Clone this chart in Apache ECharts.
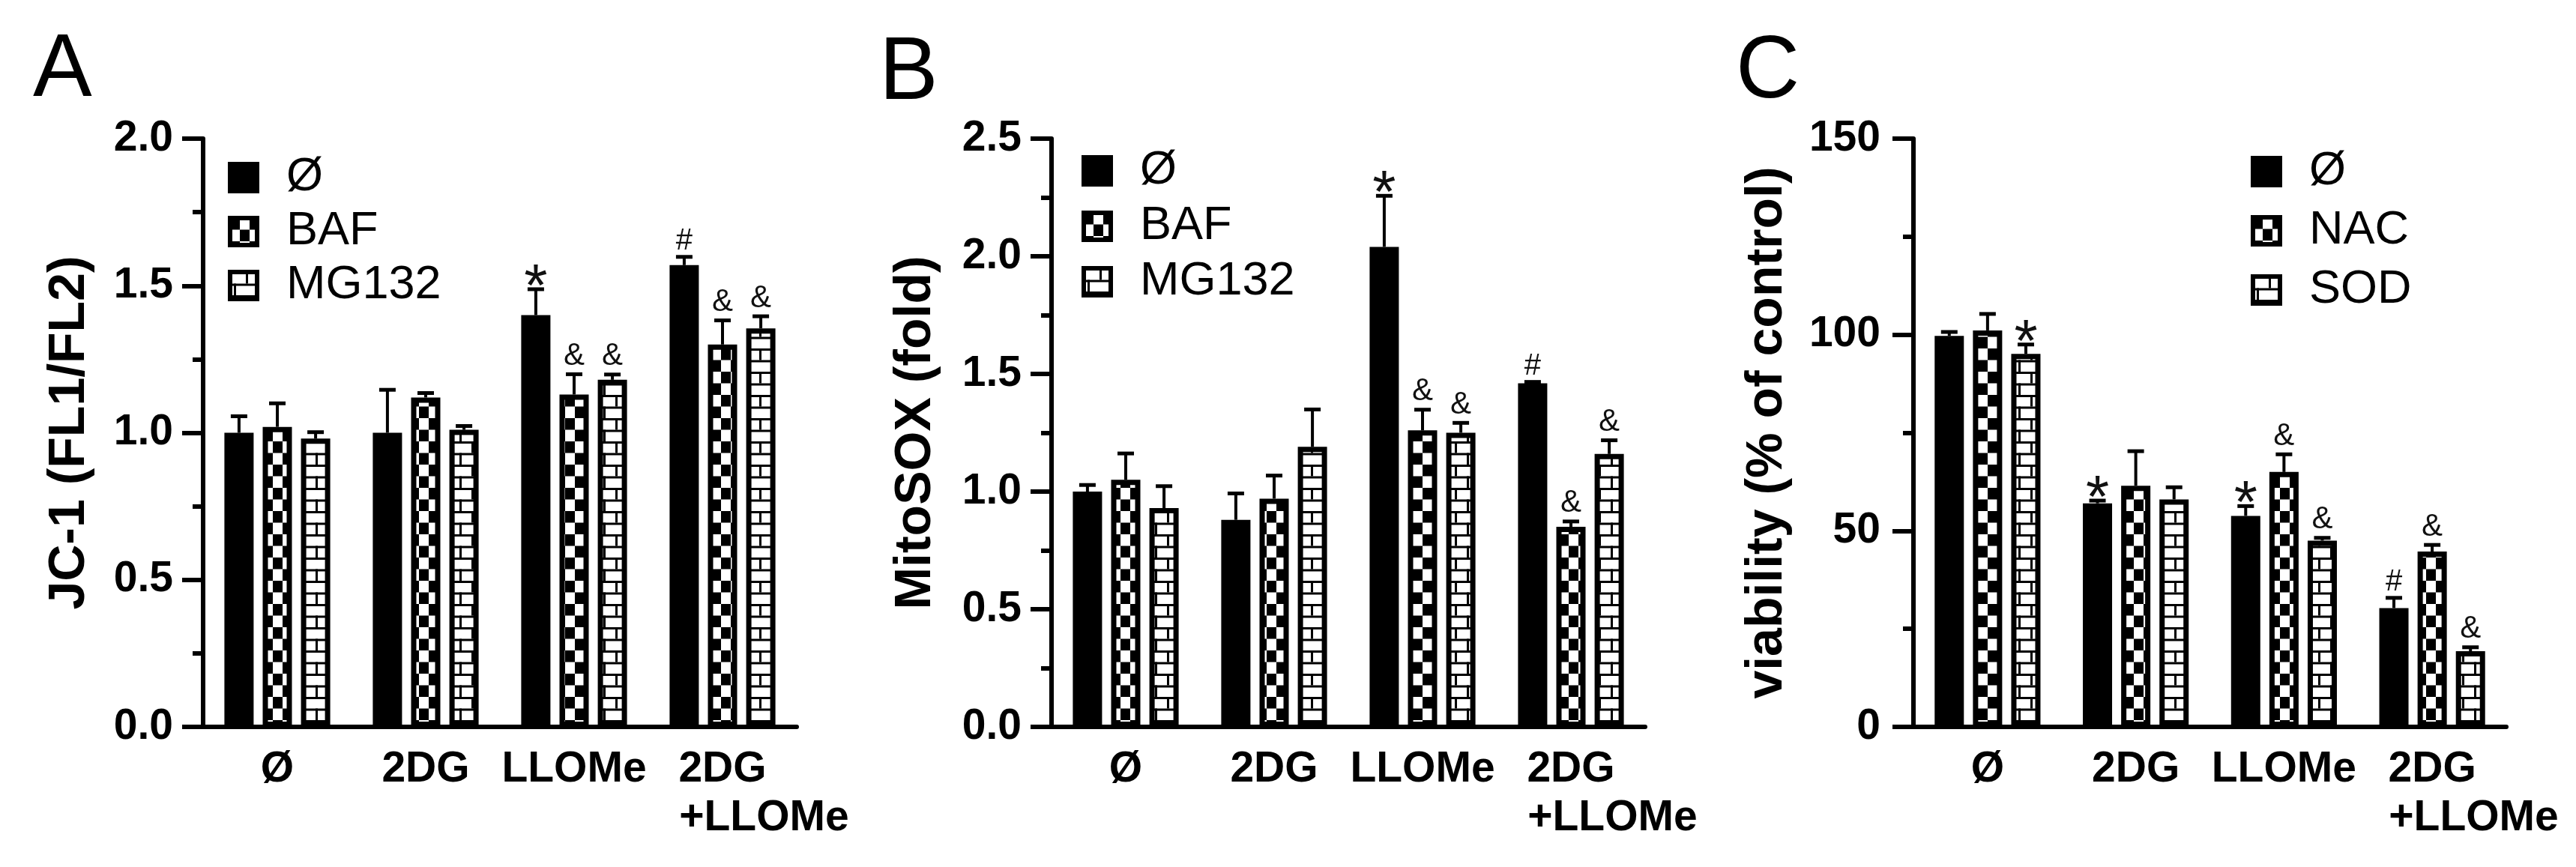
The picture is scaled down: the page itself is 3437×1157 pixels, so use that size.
<!DOCTYPE html>
<html><head><meta charset="utf-8">
<script src="https://cdn.jsdelivr.net/npm/echarts@6/dist/echarts.min.js"></script>
<style>html,body{margin:0;padding:0;background:#fff}#c{width:3437px;height:1157px}</style>
</head><body><div id="c"></div>
<script>
// ---------- data ----------
const categories = ['Ø', '2DG', 'LLOMe', '2DG\n+LLOMe'];

// Panel A: JC-1 (FL1/FL2)
const jc1None = [1.00, 1.00, 1.40, 1.57];
const jc1NoneErr = [0.056, 0.146, 0.088, 0.028];
const jc1Baf = [1.02, 1.12, 1.13, 1.30];
const jc1BafErr = [0.080, 0.015, 0.069, 0.082];
const jc1Mg = [0.98, 1.01, 1.18, 1.355];
const jc1MgErr = [0.022, 0.013, 0.018, 0.041];
const jc1NoneSig = ['', '', '*', '#'];
const jc1BafSig = ['', '', '&', '&'];
const jc1MgSig = ['', '', '&', '&'];

// Panel B: MitoSOX (fold)
const mitoNone = [1.00, 0.88, 2.04, 1.46];
const mitoNoneErr = [0.028, 0.112, 0.217, 0.006];
const mitoBaf = [1.05, 0.97, 1.26, 0.85];
const mitoBafErr = [0.112, 0.098, 0.088, 0.023];
const mitoMg = [0.93, 1.19, 1.25, 1.16];
const mitoMgErr = [0.093, 0.159, 0.042, 0.058];
const mitoNoneSig = ['', '', '*', '#'];
const mitoBafSig = ['', '', '&', '&'];
const mitoMgSig = ['', '', '&', '&'];

// Panel C: viability (% of control)
const viaNone = [99.7, 57.0, 53.8, 30.3];
const viaNoneErr = [1.0, 0.7, 2.5, 2.6];
const viaNac = [101.1, 61.5, 65.0, 44.7];
const viaNacErr = [4.2, 8.8, 4.5, 1.7];
const viaSod = [95.1, 58.0, 47.5, 19.3];
const viaSodErr = [2.4, 3.1, 0.7, 1.0];
const viaNoneSig = ['', '*', '*', '#'];
const viaNacSig = ['', '', '&', '&'];
const viaSodSig = ['*', '', '&', '&'];

const legendAB = ['Ø', 'BAF', 'MG132'];
const legendC = ['Ø', 'NAC', 'SOD'];
const panelLetters = ['A', 'B', 'C'];
const yNames = ['JC-1 (FL1/FL2)', 'MitoSOX (fold)', 'viability (% of control)'];
const yMax = [2.0, 2.5, 150];
const yInterval = [0.5, 0.5, 50];

// ---------- styling ----------
const FONT = '"Liberation Sans", Arial, Helvetica, sans-serif';
const BAR_W = 39, BAR_GAP = 0.31;

function checkerTile() {
  const c = document.createElement('canvas'); c.width = 26; c.height = 31;
  const g = c.getContext('2d');
  g.fillStyle = '#fff'; g.fillRect(0, 0, 26, 31);
  g.fillStyle = '#000'; g.fillRect(0, 0, 13, 15.5); g.fillRect(13, 15.5, 13, 15.5);
  return c;
}
function brickTile() {
  const c = document.createElement('canvas'); c.width = 32; c.height = 31;
  const g = c.getContext('2d');
  g.fillStyle = '#fff'; g.fillRect(0, 0, 32, 31);
  g.fillStyle = '#000';
  g.fillRect(0, 0, 32, 3); g.fillRect(0, 15.5, 32, 3);
  g.fillRect(21, 0, 3, 15.5); g.fillRect(5, 15.5, 3, 15.5);
  return c;
}
const fills = ['#000', { image: checkerTile(), repeat: 'repeat' }, { image: brickTile(), repeat: 'repeat' }];

const SYM_FONT = { '*': 'normal 80px ' + FONT, '&': 'normal 42px ' + FONT, '#': 'normal 40px ' + FONT };
const SYM_OFF = { '*': 40, '&': -3, '#': -1 };

const LABEL_STYLE = { color: '#000', fontFamily: FONT, fontWeight: 'bold', fontSize: 57, lineHeight: 65 };

const panels = [
  { vals: [jc1None, jc1Baf, jc1Mg], errs: [jc1NoneErr, jc1BafErr, jc1MgErr], sigs: [jc1NoneSig, jc1BafSig, jc1MgSig], names: legendAB,
    grid: { left: 271, width: 792 }, nameGap: 144, labelMargin: 40, legend: { left: 304, top: 205, gap: 8 }, letter: { left: 44, top: 36 } },
  { vals: [mitoNone, mitoBaf, mitoMg], errs: [mitoNoneErr, mitoBafErr, mitoMgErr], sigs: [mitoNoneSig, mitoBafSig, mitoMgSig], names: legendAB,
    grid: { left: 1403, width: 792 }, nameGap: 147, labelMargin: 40, legend: { left: 1443, top: 196, gap: 10 }, letter: { left: 1173, top: 40 } },
  { vals: [viaNone, viaNac, viaSod], errs: [viaNoneErr, viaNacErr, viaSodErr], sigs: [viaNoneSig, viaNacSig, viaSodSig], names: legendC,
    grid: { left: 2553, width: 791 }, nameGap: 161, labelMargin: 44, legend: { left: 3003, top: 197, gap: 15 }, letter: { left: 2316, top: 38 } }
];

// Two-line label: first line centred on the tick, second line pushed right so both lines start together
function xLabel(v) {
  if (v.indexOf('\n') < 0) return v;
  const lines = v.split('\n');
  return lines[0] + '\n' + '\u00A0'.repeat(7) + lines[1];
}

const grid = [], xAxis = [], yAxis = [], series = [], legend = [], graphic = [];

panels.forEach((P, p) => {
  grid.push({ left: P.grid.left, width: P.grid.width, top: 185, height: 785, outerBoundsMode: 'none' });
  xAxis.push({
    type: 'category', gridIndex: p, data: categories,
    axisLine: { show: true, onZero: false, lineStyle: { color: '#000', width: 6 } },
    axisTick: { show: false },
    splitLine: { show: false },
    axisLabel: Object.assign({ interval: 0, margin: 25, formatter: xLabel }, LABEL_STYLE)
  });
  yAxis.push({
    type: 'value', gridIndex: p, min: 0, max: yMax[p], interval: yInterval[p],
    axisLine: { show: true, lineStyle: { color: '#000', width: 6 } },
    axisTick: { show: true, length: 28, lineStyle: { color: '#000', width: 6 } },
    minorTick: { show: true, splitNumber: 2, length: 14, lineStyle: { color: '#000', width: 6 } },
    splitLine: { show: false }, minorSplitLine: { show: false },
    axisLabel: {
      margin: P.labelMargin, color: '#000', fontFamily: FONT, fontWeight: 'bold', fontSize: 57, padding: [15, 0, 0, 0],
      formatter: v => p < 2 ? v.toFixed(1) : String(Math.round(v))
    },
    name: yNames[p], nameLocation: 'middle', nameGap: P.nameGap,
    nameTextStyle: { color: '#000', fontFamily: FONT, fontWeight: 'bold', fontSize: 68 }
  });
  legend.push({
    data: P.names.slice(), orient: 'vertical', left: P.legend.left, top: P.legend.top,
    itemWidth: 36, itemHeight: 36, itemGap: P.legend.gap, padding: 0, selectedMode: false, icon: 'rect',
    itemStyle: { borderColor: '#000', borderWidth: 6 },
    textStyle: { color: '#000', fontFamily: FONT, fontSize: 63, lineHeight: 64, padding: [0, 0, 0, 34] }
  });
  graphic.push({ type: 'text', left: P.letter.left, top: P.letter.top, silent: true,
    style: { text: panelLetters[p], font: 'normal 118px ' + FONT, fill: '#000' } });

  for (let k = 0; k < 3; k++) {
    series.push({
      type: 'bar', name: P.names[k], xAxisIndex: p, yAxisIndex: p,
      data: P.vals[k], barWidth: BAR_W, barGap: (BAR_GAP * 100) + '%',
      itemStyle: { color: fills[k], borderColor: '#000', borderWidth: 7 },
      emphasis: { disabled: true }, silent: true
    });
  }
  for (let k = 0; k < 3; k++) {
    const sigs = P.sigs[k];
    const errs = P.errs[k];
    series.push({
      type: 'custom', name: 'err' + p + k, xAxisIndex: p, yAxisIndex: p, z: 5, silent: true,
      data: P.vals[k].map((v, i) => [i, v, errs[i]]),
      encode: { x: 0, y: 1 },
      renderItem: (params, api) => {
        const i = api.value(0), v = api.value(1), e = api.value(2);
        const base = api.coord([i, v]);
        const top = api.coord([i, v + e]);
        const x = base[0] + (k - 1) * BAR_W * (1 + BAR_GAP);
        const children = [
          { type: 'line', shape: { x1: x, y1: base[1], x2: x, y2: top[1] }, style: { stroke: '#000', lineWidth: 4 } },
          { type: 'line', shape: { x1: x - 11, y1: top[1], x2: x + 11, y2: top[1] }, style: { stroke: '#000', lineWidth: 5 } }
        ];
        const sym = sigs[params.dataIndex];
        if (sym) {
          children.push({ type: 'text', style: { text: sym, x: x, y: top[1] + SYM_OFF[sym], align: 'center', verticalAlign: 'bottom', font: SYM_FONT[sym], fill: '#111' } });
        }
        return { type: 'group', children };
      }
    });
  }
});

const chart = echarts.init(document.getElementById('c'), null, { renderer: 'canvas' });
chart.setOption({
  backgroundColor: '#fff', animation: false,
  grid, xAxis, yAxis, series, legend, graphic
});
</script>
</body></html>
